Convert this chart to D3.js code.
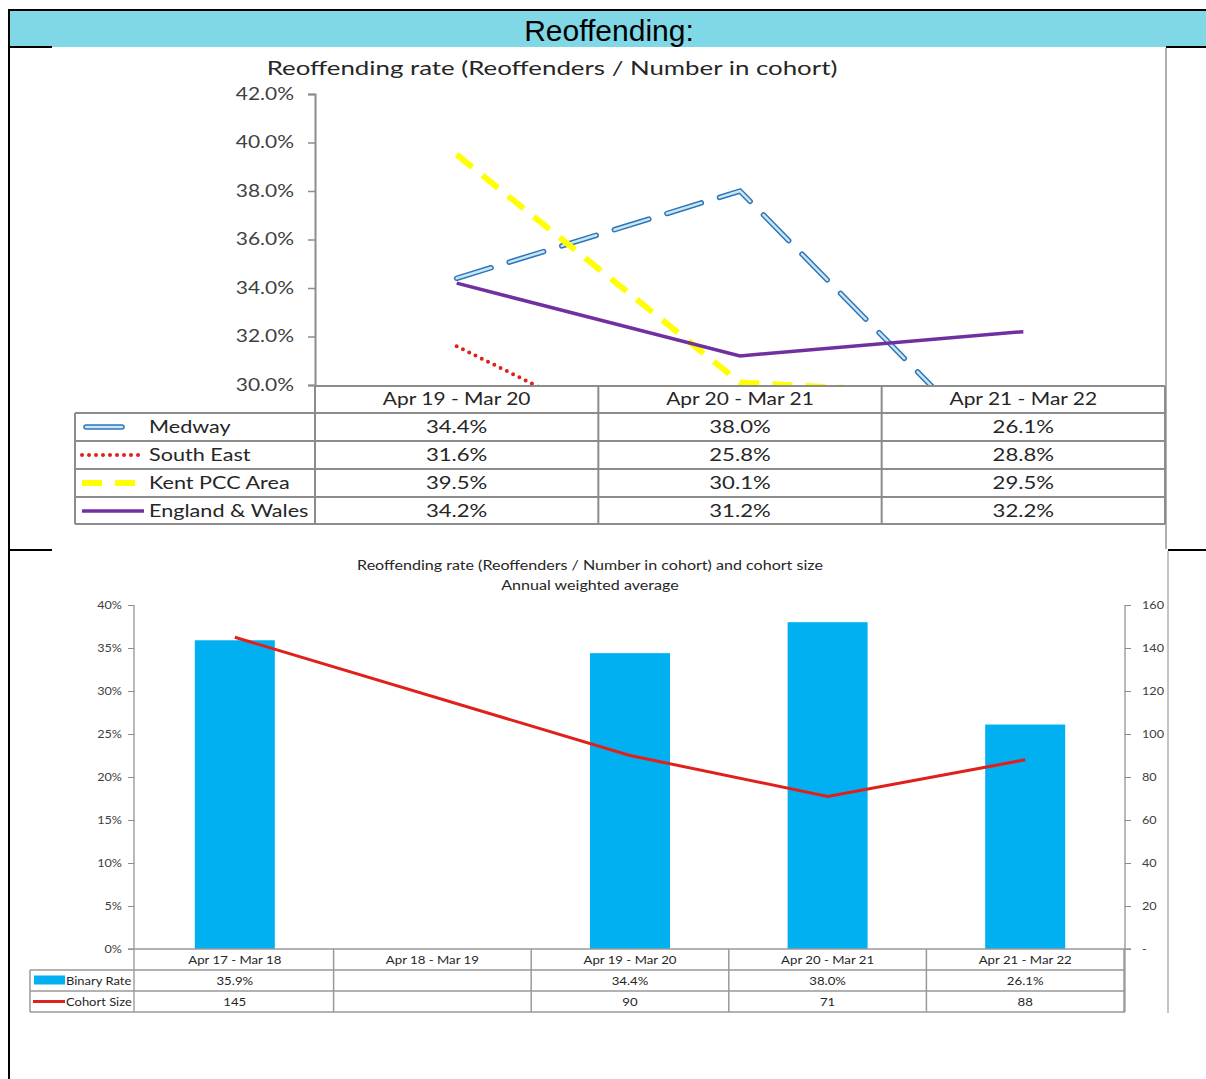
<!DOCTYPE html>
<html>
<head>
<meta charset="utf-8">
<script src="https://cdn.jsdelivr.net/npm/d3@7"></script>
<style>
  body { margin: 0; background: #fff; }
  svg { display: block; }
</style>
</head>
<body>
<svg width="1206" height="1079"></svg>
<script>
// top chart data
const topCats = ["Apr 19 - Mar 20", "Apr 20 - Mar 21", "Apr 21 - Mar 22"];
const medway = [34.4, 38.0, 26.1];
const southEast = [31.6, 25.8, 28.8];
const kentPcc = [39.5, 30.1, 29.5];
const englandWales = [34.2, 31.2, 32.2];
const topTicks = [30, 32, 34, 36, 38, 40, 42];

// bottom chart data
const bottomCats = ["Apr 17 - Mar 18", "Apr 18 - Mar 19", "Apr 19 - Mar 20", "Apr 20 - Mar 21", "Apr 21 - Mar 22"];
const binaryRate = [35.9, null, 34.4, 38.0, 26.1];
const cohortSize = [145, null, 90, 71, 88];
const rateTicks = [0, 5, 10, 15, 20, 25, 30, 35, 40];
const sizeTicks = [0, 20, 40, 60, 80, 100, 120, 140, 160];

let svg = d3.select("svg");
let font = "Lato, 'Open Sans', sans-serif";

// stretch text horizontally (the original picture is widened)
let stretch = (sel, k) => {
	sel.each(function(){
		let w = this.getComputedTextLength();
		d3.select(this).attr("textLength", w * k).attr("lengthAdjust", "spacingAndGlyphs");
	});
};

// page frame + header band
let blk = (x1, y1, x2, y2) => svg.append("line").attr("x1", x1).attr("y1", y1).attr("x2", x2).attr("y2", y2)
	.attr("stroke", "#000").attr("stroke-width", 2);
svg.append("rect").attr("x", 9).attr("y", 10).attr("width", 1197).attr("height", 37).attr("fill", "#80d7e6");
blk(9, 10, 1206, 10);
blk(9, 47, 52, 47);
blk(1166, 47, 1206, 47);
blk(9, 550, 52, 550);
blk(1168, 550, 1206, 550);
blk(9, 9, 9, 1079);
svg.append("text").attr("x", 609).attr("y", 41).attr("text-anchor", "middle")
	.attr("font-family", "'Liberation Sans', Arial, sans-serif").attr("font-size", 30).attr("fill", "#000")
	.text("Reoffending:");

// ---------- top chart ----------
let gTop = svg.append("g");
gTop.append("line").attr("x1", 1166).attr("x2", 1166).attr("y1", 48).attr("y2", 549).attr("stroke", "#b0b0b0").attr("stroke-width", 2);

let tx = d3.scaleBand().domain(topCats).range([315, 1165]);
let ty = d3.scaleLinear().domain([30, 42]).range([385, 94]);

gTop.append("text").attr("x", 552).attr("y", 75).attr("text-anchor", "middle")
	.attr("font-family", font).attr("font-size", 19).attr("fill", "#262626")
	.text("Reoffending rate (Reoffenders / Number in cohort)")
	.call(stretch, 1.36);

let yAxisTop = gTop.append("g").attr("transform", "translate(315,0)")
	.call(d3.axisLeft(ty).tickValues(topTicks).tickSize(7).tickPadding(14).tickFormat(d => d3.format(".1f")(d) + "%"));
yAxisTop.select(".domain").attr("stroke", "#8c8c8c").attr("stroke-width", 2);
yAxisTop.selectAll(".tick line").attr("stroke", "#8c8c8c").attr("stroke-width", 1.5);
yAxisTop.selectAll("text").attr("font-family", font).attr("font-size", 16.5).attr("fill", "#404040").call(stretch, 1.27);

svg.append("clipPath").attr("id", "clipTop").append("rect")
	.attr("x", 315).attr("y", 80).attr("width", 850).attr("height", 305);

let topSeries = [
	{name: "Medway", values: medway},
	{name: "South East", values: southEast},
	{name: "Kent PCC Area", values: kentPcc},
	{name: "England & Wales", values: englandWales}
];

// draw one series style on a path
let drawStyled = (g, name, d) => {
	if (name == "Medway") {
		g.append("path").attr("d", d).attr("fill", "none").attr("stroke", "#2e75b6").attr("stroke-width", 5.5)
			.attr("stroke-dasharray", "36 19").attr("stroke-linecap", "round");
		g.append("path").attr("d", d).attr("fill", "none").attr("stroke", "#c9e6f5").attr("stroke-width", 2.5)
			.attr("stroke-dasharray", "36 19").attr("stroke-linecap", "round");
	} else if (name == "South East") {
		g.append("path").attr("d", d).attr("fill", "none").attr("stroke", "#e0201b").attr("stroke-width", 4)
			.attr("stroke-dasharray", "0 7").attr("stroke-linecap", "round");
	} else if (name == "Kent PCC Area") {
		g.append("path").attr("d", d).attr("fill", "none").attr("stroke", "#ffff00").attr("stroke-width", 6)
			.attr("stroke-dasharray", "20 13");
	} else {
		g.append("path").attr("d", d).attr("fill", "none").attr("stroke", "#7030a0").attr("stroke-width", 3.5);
	}
};

let lineTop = d3.line().x((d, i) => tx(topCats[i]) + tx.bandwidth() / 2).y(d => ty(d));
let plotTop = gTop.append("g").attr("clip-path", "url(#clipTop)");
topSeries.forEach(s => drawStyled(plotTop, s.name, lineTop(s.values)));

// data table under top chart
let rowH = 28, tableTop = 386, legendLeft = 75;
let grid = gTop.append("g").attr("stroke", "#8c8c8c").attr("stroke-width", 2);
grid.append("line").attr("x1", 315).attr("x2", 1165).attr("y1", tableTop).attr("y2", tableTop);
topSeries.forEach((s, i) => {
	let y = tableTop + rowH * (i + 1) - 1;
	grid.append("line").attr("x1", legendLeft).attr("x2", 1165).attr("y1", y).attr("y2", y);
});
grid.append("line").attr("x1", legendLeft).attr("x2", 1165).attr("y1", tableTop + rowH * 5 - 2).attr("y2", tableTop + rowH * 5 - 2);
grid.append("line").attr("x1", legendLeft).attr("x2", legendLeft).attr("y1", tableTop + rowH - 1).attr("y2", tableTop + rowH * 5 - 2);
topCats.forEach(c => {
	grid.append("line").attr("x1", tx(c) + tx.bandwidth()).attr("x2", tx(c) + tx.bandwidth())
		.attr("y1", tableTop).attr("y2", tableTop + rowH * 5 - 2);
});
grid.append("line").attr("x1", 315).attr("x2", 315).attr("y1", tableTop).attr("y2", tableTop + rowH * 5 - 2);

gTop.selectAll(".colhead").data(topCats).enter().append("text")
	.attr("x", d => tx(d) + tx.bandwidth() / 2).attr("y", tableTop + 19)
	.attr("text-anchor", "middle").attr("font-family", font).attr("font-size", 16.5).attr("fill", "#262626")
	.text(d => d).call(stretch, 1.27);

topSeries.forEach((s, i) => {
	let cy = tableTop + rowH * (i + 1) + rowH / 2 - 1;
	let key = gTop.append("g");
	drawStyled(key, s.name, d3.line()([[s.name == "Medway" ? 86 : 82, cy], [s.name == "Medway" ? 124 : 144, cy]]));
	gTop.append("text").attr("x", 149).attr("y", cy + 6)
		.attr("font-family", font).attr("font-size", 16.5).attr("fill", "#262626")
		.text(s.name).call(stretch, 1.31);
	gTop.selectAll(null).data(s.values).enter().append("text")
		.attr("x", (d, j) => tx(topCats[j]) + tx.bandwidth() / 2).attr("y", cy + 6)
		.attr("text-anchor", "middle").attr("font-family", font).attr("font-size", 16.5).attr("fill", "#262626")
		.text(d => d3.format(".1f")(d) + "%").call(stretch, 1.34);
});

// ---------- bottom chart ----------
let gBot = svg.append("g");
gBot.append("line").attr("x1", 1168).attr("x2", 1168).attr("y1", 551).attr("y2", 1013).attr("stroke", "#b0b0b0").attr("stroke-width", 1.5);

let bx = d3.scaleBand().domain(bottomCats).range([136, 1124]);
let byRate = d3.scaleLinear().domain([0, 40]).range([949, 605]);
let bySize = d3.scaleLinear().domain([0, 160]).range([949, 605]);

gBot.append("text").attr("x", 590).attr("y", 570).attr("text-anchor", "middle")
	.attr("font-family", font).attr("font-size", 13.5).attr("fill", "#262626")
	.text("Reoffending rate (Reoffenders / Number in cohort) and cohort size").call(stretch, 1.19);
gBot.append("text").attr("x", 590).attr("y", 590).attr("text-anchor", "middle")
	.attr("font-family", font).attr("font-size", 13.5).attr("fill", "#262626")
	.text("Annual weighted average").call(stretch, 1.19);

let barW = 80;
binaryRate.forEach((v, i) => {
	if (v == null) return;
	gBot.append("rect")
		.attr("x", bx(bottomCats[i]) + bx.bandwidth() / 2 - barW / 2)
		.attr("y", byRate(v)).attr("width", barW).attr("height", byRate(0) - byRate(v))
		.attr("fill", "#00b0f0");
});

let sizePts = cohortSize.map((v, i) => [bx(bottomCats[i]) + bx.bandwidth() / 2, v]).filter(p => p[1] != null);
gBot.append("path").attr("d", d3.line().x(p => p[0]).y(p => bySize(p[1]))(sizePts))
	.attr("fill", "none").attr("stroke", "#e0201b").attr("stroke-width", 3);

let yAxisL = gBot.append("g").attr("transform", "translate(134,0)")
	.call(d3.axisLeft(byRate).tickValues(rateTicks).tickSize(6).tickPadding(6).tickFormat(d => d + "%"));
yAxisL.select(".domain").attr("stroke", "#8c8c8c").attr("stroke-width", 1.2).attr("d", "M-6,605.5H0V1012");
yAxisL.selectAll(".tick line").attr("stroke", "#8c8c8c");
yAxisL.selectAll("text").attr("font-family", font).attr("font-size", 11.5).attr("fill", "#404040").call(stretch, 1.1);

let yAxisR = gBot.append("g").attr("transform", "translate(1125,0)")
	.call(d3.axisRight(bySize).tickValues(sizeTicks).tickSize(6).tickPadding(11).tickFormat(d => d == 0 ? "-" : d));
yAxisR.select(".domain").attr("stroke", "#8c8c8c").attr("stroke-width", 1.2).attr("d", "M6,605.5H0V1012");
yAxisR.selectAll(".tick line").attr("stroke", "#8c8c8c");
yAxisR.selectAll("text").attr("font-family", font).attr("font-size", 11.5).attr("fill", "#404040").call(stretch, 1.1);

// bottom data table
let bRow = 21, bTop = 949;
let bGrid = gBot.append("g").attr("stroke", "#999").attr("stroke-width", 1.5);
bGrid.append("line").attr("x1", 128).attr("x2", 1131).attr("y1", bTop).attr("y2", bTop);
[1, 2, 3].forEach(k => {
	bGrid.append("line").attr("x1", 30).attr("x2", 1125).attr("y1", bTop + bRow * k).attr("y2", bTop + bRow * k);
});
bGrid.append("line").attr("x1", 30).attr("x2", 30).attr("y1", bTop + bRow).attr("y2", bTop + bRow * 3);
bottomCats.forEach(c => {
	bGrid.append("line").attr("x1", bx(c) + bx.bandwidth()).attr("x2", bx(c) + bx.bandwidth())
		.attr("y1", bTop).attr("y2", bTop + bRow * 3);
});

gBot.selectAll(".bcat").data(bottomCats).enter().append("text")
	.attr("x", d => bx(d) + bx.bandwidth() / 2).attr("y", bTop + 15)
	.attr("text-anchor", "middle").attr("font-family", font).attr("font-size", 12).attr("fill", "#262626")
	.text(d => d).call(stretch, 1.1);

let bRows = [
	{name: "Binary Rate", values: binaryRate, fmt: d => d3.format(".1f")(d) + "%"},
	{name: "Cohort Size", values: cohortSize, fmt: d => d}
];
bRows.forEach((r, i) => {
	let cy = bTop + bRow * (i + 1) + bRow / 2;
	if (r.name == "Binary Rate") {
		gBot.append("rect").attr("x", 34).attr("y", cy - 5).attr("width", 31).attr("height", 9).attr("fill", "#00b0f0");
	} else {
		gBot.append("line").attr("x1", 33).attr("x2", 65).attr("y1", cy).attr("y2", cy).attr("stroke", "#e0201b").attr("stroke-width", 3);
	}
	gBot.append("text").attr("x", 66).attr("y", cy + 4.5)
		.attr("font-family", font).attr("font-size", 12).attr("fill", "#262626").text(r.name).call(stretch, 1.08);
	r.values.forEach((v, j) => {
		if (v == null) return;
		gBot.append("text").attr("x", bx(bottomCats[j]) + bx.bandwidth() / 2).attr("y", cy + 4.5)
			.attr("text-anchor", "middle").attr("font-family", font).attr("font-size", 12).attr("fill", "#262626")
			.text(r.fmt(v)).call(stretch, 1.1);
	});
});
</script>
</body>
</html>
